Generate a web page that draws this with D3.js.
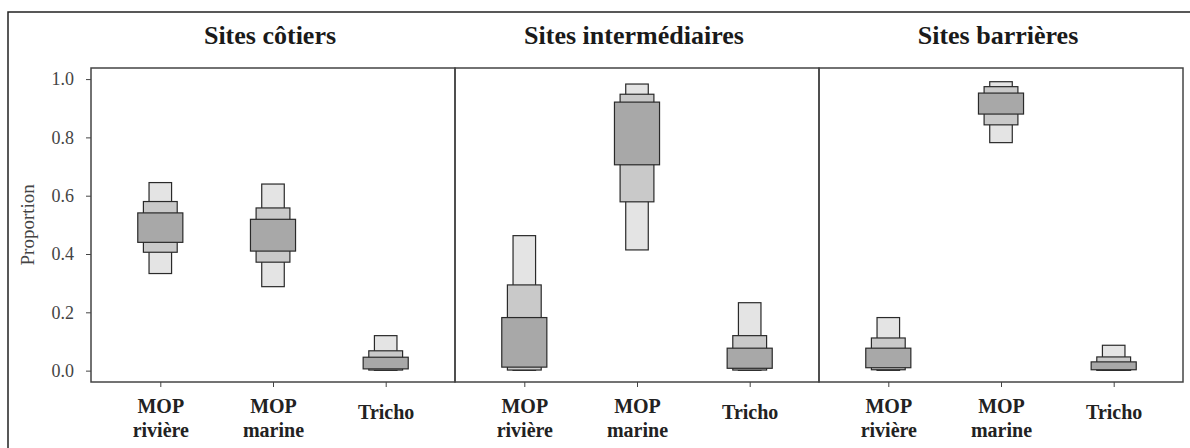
<!DOCTYPE html>
<html>
<head>
<meta charset="utf-8">
<script src="https://cdn.jsdelivr.net/npm/d3@7"></script>
<style>
  body { margin: 0; background: #fff; }
  svg { display: block; }
  text { font-family: "Liberation Serif", "Times New Roman", serif; }
</style>
</head>
<body>
<svg id="chart" width="1190" height="448"></svg>
<script>
var sites = ["Sites côtiers", "Sites intermédiaires", "Sites barrières"];
var sources = ["MOP|rivière", "MOP|marine", "Tricho"];
var yTicks = [0, 0.2, 0.4, 0.6, 0.8, 1.0];

// credible intervals [low, high], one row per site, columns follow sources
var ci95 = [
  [[0.333, 0.645], [0.288, 0.640], [0.001, 0.120]],
  [[0.001, 0.463], [0.414, 0.983], [0.001, 0.233]],
  [[0.001, 0.182], [0.782, 0.991], [0.001, 0.087]]
];
var ci75 = [
  [[0.406, 0.580], [0.372, 0.558], [0.002, 0.068]],
  [[0.002, 0.294], [0.579, 0.948], [0.002, 0.120]],
  [[0.003, 0.112], [0.843, 0.974], [0.001, 0.047]]
];
var ci50 = [
  [[0.440, 0.541], [0.410, 0.519], [0.006, 0.046]],
  [[0.012, 0.182], [0.706, 0.921], [0.008, 0.077]],
  [[0.010, 0.077], [0.880, 0.952], [0.003, 0.030]]
];

var levels = [
  {data: ci95, half: 0.1, fill: "#e4e4e4"},
  {data: ci75, half: 0.15, fill: "#c9c9c9"},
  {data: ci50, half: 0.2, fill: "#a8a8a8"}
];

var svg = d3.select("#chart");
var plotLeft = 91, plotRight = 1183, plotTop = 68, plotBottom = 382;
var panelW = (plotRight - plotLeft) / 3;

// outer frame (runs off the right and bottom of the picture)
svg.append("rect")
  .attr("x", 8).attr("y", 12)
  .attr("width", 1200).attr("height", 460)
  .attr("fill", "none").attr("stroke", "#222").attr("stroke-width", 1.5);

var y = d3.scaleLinear().domain([-0.039, 1.038]).range([plotBottom, plotTop]);

// y axis on the first panel only
var yAxis = svg.append("g")
  .attr("transform", "translate(" + plotLeft + ",0)")
  .call(d3.axisLeft(y).tickValues(yTicks).tickSize(5).tickPadding(12).tickFormat(d3.format(".1f")));
yAxis.attr("font-family", null);
yAxis.select(".domain").remove();
yAxis.selectAll("line").attr("stroke", "#444");
yAxis.selectAll("text").attr("font-size", 18).attr("fill", "#444");

svg.append("text")
  .attr("transform", "translate(34," + y(0.5) + ") rotate(-90)")
  .attr("text-anchor", "middle")
  .attr("font-size", 19).attr("fill", "#444")
  .text("Proportion");

sites.forEach(function(site, s) {
  var x0 = plotLeft + s * panelW;
  var x = d3.scaleLinear().domain([0.385, 3.615]).range([x0, x0 + panelW]);
  var g = svg.append("g");

  g.append("text")
    .attr("x", x(2) - 3).attr("y", 44)
    .attr("text-anchor", "middle")
    .attr("font-size", 26).attr("font-weight", "bold").attr("fill", "#1a1a1a")
    .text(site);

  levels.forEach(function(level) {
    g.selectAll(null)
      .data(level.data[s])
      .enter().append("rect")
      .attr("x", function(d, i) { return x(i + 1 - level.half); })
      .attr("width", function(d, i) { return x(i + 1 + level.half) - x(i + 1 - level.half); })
      .attr("y", function(d) { return y(d[1]); })
      .attr("height", function(d) { return y(d[0]) - y(d[1]); })
      .attr("fill", level.fill)
      .attr("stroke", "#2a2a2a").attr("stroke-width", 1.2);
  });

  g.append("rect")
    .attr("x", x0).attr("y", plotTop)
    .attr("width", panelW).attr("height", plotBottom - plotTop)
    .attr("fill", "none").attr("stroke", "#444").attr("stroke-width", 1.5);

  var xAxis = g.append("g")
    .attr("transform", "translate(0," + plotBottom + ")")
    .call(d3.axisBottom(x).tickValues([1, 2, 3]).tickSize(5).tickFormat(""));
  xAxis.attr("font-family", null);
  xAxis.select(".domain").remove();
  xAxis.selectAll("line").attr("stroke", "#444");

  xAxis.selectAll(".tick").each(function(d) {
    var lines = sources[d - 1].split("|");
    var t = d3.select(this).append("text")
      .attr("text-anchor", "middle")
      .attr("font-size", 20).attr("font-weight", "bold").attr("fill", "#222");
    if (lines.length === 1) {
      t.attr("y", 37).text(lines[0]);
    } else {
      lines.forEach(function(line, k) {
        t.append("tspan").attr("x", 0).attr("y", 31 + k * 24).text(line);
      });
    }
  });
});
</script>
</body>
</html>
